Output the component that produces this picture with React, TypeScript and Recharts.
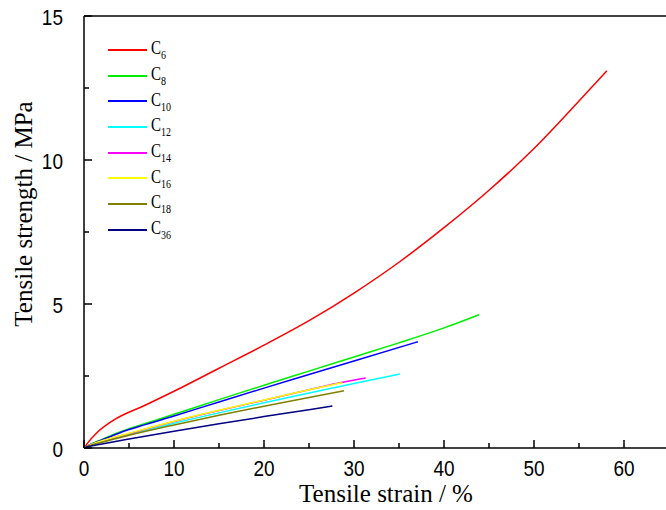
import { Legend, Line, LineChart, ReferenceLine, XAxis, YAxis } from "recharts";

// strain (%) / strength (MPa)
const c6Strain = [0, 0.4, 1.4, 3.2, 6.9, 10, 15, 20, 25, 30, 35, 40, 45, 50, 55, 58.1];
const c6Stress = [0, 0.17, 0.52, 0.95, 1.5, 1.97, 2.77, 3.57, 4.42, 5.38, 6.45, 7.65, 8.95, 10.4, 12.05, 13.1];

const c8Strain = [0, 0.5, 2, 4, 6.9, 10, 15, 20, 25, 30, 35, 40, 43.9];
const c8Stress = [0, 0.09, 0.3, 0.56, 0.86, 1.17, 1.68, 2.18, 2.67, 3.16, 3.65, 4.17, 4.63];

const c10Strain = [0, 0.5, 2, 4, 6.9, 10, 15, 20, 25, 30, 37.1];
const c10Stress = [0, 0.09, 0.28, 0.53, 0.82, 1.11, 1.6, 2.08, 2.55, 3.02, 3.69];

const c12Strain = [0, 0.5, 2, 5, 10, 15, 20, 25, 30, 35.1];
const c12Stress = [0, 0.07, 0.22, 0.46, 0.86, 1.22, 1.57, 1.91, 2.24, 2.57];

const c14Strain = [0, 0.5, 2, 5, 10, 15, 20, 25, 28.7, 31.3];
const c14Stress = [0, 0.08, 0.24, 0.5, 0.92, 1.3, 1.66, 2.02, 2.28, 2.43];

const c16Strain = [0, 0.5, 2, 5, 10, 15, 20, 25, 28.7];
const c16Stress = [0, 0.08, 0.25, 0.51, 0.93, 1.31, 1.67, 2.02, 2.27];

const c18Strain = [0, 0.5, 2, 5, 10, 15, 20, 25, 28.9];
const c18Stress = [0, 0.07, 0.2, 0.44, 0.8, 1.14, 1.45, 1.75, 1.99];

const c36Strain = [0, 0.5, 2, 5, 10, 15, 20, 25, 27.6];
const c36Stress = [0, 0.05, 0.14, 0.31, 0.58, 0.84, 1.09, 1.33, 1.46];

const xTicks = [0, 5, 10, 15, 20, 25, 30, 35, 40, 45, 50, 55, 60, 65];
const yTicks = [0, 2.5, 5, 7.5, 10, 12.5, 15];

const toPoints = (xs: number[], ys: number[]) => xs.map((x, i) => ({ x, y: ys[i] }));

const series = [
  { sub: "6", color: "#ff0000", data: toPoints(c6Strain, c6Stress) },
  { sub: "8", color: "#00ee00", data: toPoints(c8Strain, c8Stress) },
  { sub: "10", color: "#0000ff", data: toPoints(c10Strain, c10Stress) },
  { sub: "12", color: "#00ffff", data: toPoints(c12Strain, c12Stress) },
  { sub: "14", color: "#ff00ff", data: toPoints(c14Strain, c14Stress) },
  { sub: "16", color: "#ffff00", data: toPoints(c16Strain, c16Stress) },
  { sub: "18", color: "#808000", data: toPoints(c18Strain, c18Stress) },
  { sub: "36", color: "#000080", data: toPoints(c36Strain, c36Stress) },
];

const sans = "'Liberation Sans', Arial, sans-serif";
const serif = "'Liberation Serif', 'Times New Roman', serif";

function XTick({ x, y, payload }: any) {
  const major = payload.value % 10 === 0;
  return (
    <g>
      <line x1={x} x2={x} y1={y} y2={y - (major ? 8 : 5)} stroke="#000" strokeWidth={1.5} />
      {major && (
        <text
          transform={`translate(${x} ${y + 20}) scale(1 1.15)`}
          textAnchor="middle"
          dominantBaseline="central"
          fontFamily={sans}
          fontSize={19}
          fill="#000"
        >
          {payload.value}
        </text>
      )}
    </g>
  );
}

function YTick({ x, y, payload }: any) {
  const major = payload.value % 5 === 0;
  return (
    <g>
      <line x1={x} x2={x + (major ? 8 : 5)} y1={y} y2={y} stroke="#000" strokeWidth={1.5} />
      {major && (
        <text
          transform={`translate(${x - 21} ${y + 1}) scale(1 1.15)`}
          textAnchor="end"
          dominantBaseline="central"
          fontFamily={sans}
          fontSize={19}
          fill="#000"
        >
          {payload.value}
        </text>
      )}
    </g>
  );
}

function LegendBox() {
  return (
    <div style={{ fontFamily: serif, color: "#000" }}>
      {series.map((s) => (
        <div key={s.sub} style={{ display: "flex", alignItems: "center", height: 25.7 }}>
          <span style={{ display: "inline-block", width: 39, height: 2, background: s.color, marginRight: 4 }} />
          <span style={{ display: "inline-block", fontSize: 15, transform: "scaleY(1.2)" }}>
            C<sub style={{ fontSize: 10 }}>{s.sub}</sub>
          </span>
        </div>
      ))}
    </div>
  );
}

export default function App() {
  return (
    <div style={{ position: "absolute", left: 0, top: 0, width: 666, height: 510, overflow: "hidden", background: "#fff" }}>
      <LineChart width={680} height={510} margin={{ top: 16, right: 11, bottom: 32, left: 24 }}>
        <XAxis
          dataKey="x"
          type="number"
          domain={[0, 65]}
          ticks={xTicks}
          height={30}
          tickSize={0}
          tickMargin={0}
          tickLine={false}
          tick={<XTick />}
          axisLine={{ stroke: "#000", strokeWidth: 1.5 }}
          allowDuplicatedCategory={false}
        />
        <YAxis
          type="number"
          domain={[0, 15]}
          ticks={yTicks}
          width={60}
          tickSize={0}
          tickMargin={0}
          tickLine={false}
          tick={<YTick />}
          axisLine={{ stroke: "#000", strokeWidth: 1.5 }}
        />
        <ReferenceLine y={15} stroke="#000" strokeWidth={1.5} />
        <ReferenceLine x={65} stroke="#000" strokeWidth={1.5} />
        {series.map((s) => (
          <Line
            key={s.sub}
            data={s.data}
            dataKey="y"
            type="monotone"
            stroke={s.color}
            strokeWidth={1.5}
            dot={false}
            isAnimationActive={false}
          />
        ))}
        <Legend
          layout="horizontal"
          verticalAlign="middle"
          align="center"
          content={<LegendBox />}
          wrapperStyle={{ position: "absolute", left: 108, top: 37, width: 120 }}
        />
        <text x={386} y={502} textAnchor="middle" fontFamily={serif} fontSize={25} fill="#000">
          Tensile strain / %
        </text>
        <text
          transform="translate(23 214) rotate(-90)"
          textAnchor="middle"
          dominantBaseline="central"
          fontFamily={serif}
          fontSize={25}
          fill="#000"
        >
          Tensile strength / MPa
        </text>
      </LineChart>
    </div>
  );
}
